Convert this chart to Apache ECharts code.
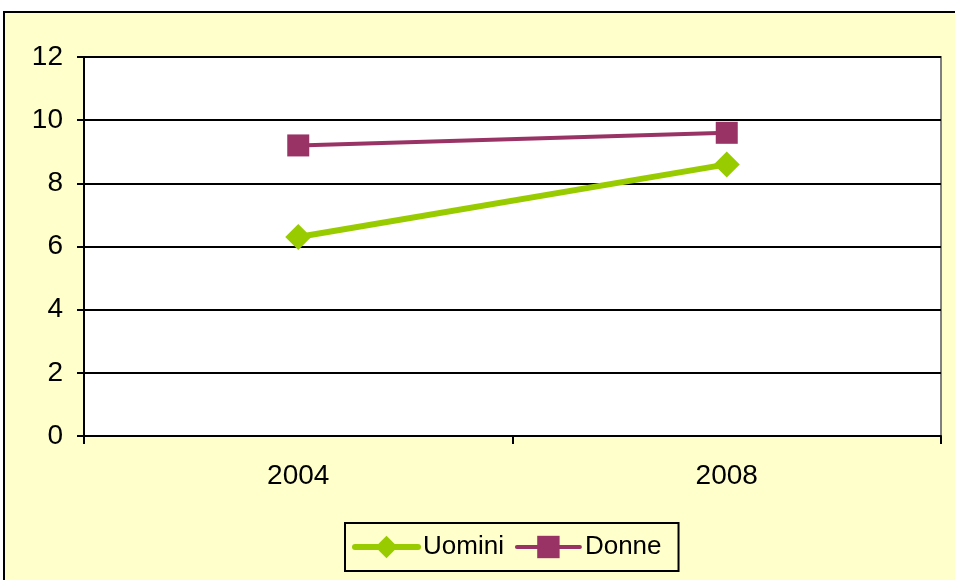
<!DOCTYPE html>
<html>
<head>
<meta charset="utf-8">
<script src="https://cdn.jsdelivr.net/npm/echarts@6/dist/echarts.min.js"></script>
<style>
  html, body { margin: 0; padding: 0; background: #fff; }
  #chart { width: 955px; height: 580px; }
</style>
</head>
<body>
<div id="chart"></div>
<script>
var years = ['2004', '2008'];
var uomini = [6.3, 8.6];
var donne = [9.2, 9.6];

var chart = echarts.init(document.getElementById('chart'));
var font = "'Liberation Sans', Arial, sans-serif";

option = {
    backgroundColor: '#ffffff',
    animation: false,
    graphic: [
        {
            type: 'rect',
            z: -10,
            shape: { x: 4, y: 12, width: 960, height: 580 },
            style: { fill: '#FFFFCC', stroke: '#000', lineWidth: 2 }
        }
    ],
    grid: {
        left: 84,
        top: 57,
        width: 857,
        height: 379,
        show: true,
        backgroundColor: '#ffffff',
        borderColor: '#808080',
        borderWidth: 2
    },
    legend: {
        left: 345,
        top: 523,
        padding: [11, 17, 11, 7],
        itemGap: 11,
        itemWidth: 63,
        itemHeight: 28,
        borderColor: '#000',
        borderWidth: 2,
        textStyle: { fontFamily: font, fontSize: 26, color: '#000' },
        data: [
            { name: 'Uomini', itemStyle: { color: '#99CC00' }, lineStyle: { color: '#99CC00', width: 6, cap: 'round' } },
            { name: 'Donne', itemStyle: { color: '#993366' }, lineStyle: { color: '#993366', width: 4, cap: 'round' } }
        ]
    },
    xAxis: {
        type: 'category',
        data: years,
        boundaryGap: true,
        axisLine: { lineStyle: { color: '#000', width: 2 } },
        axisTick: { show: true, length: 8, lineStyle: { color: '#000', width: 2 } },
        axisLabel: { margin: 26, fontFamily: font, fontSize: 28, color: '#000' },
        splitLine: { show: false }
    },
    yAxis: {
        type: 'value',
        min: 0,
        max: 12,
        interval: 2,
        axisLine: { show: true, lineStyle: { color: '#000', width: 2 } },
        axisTick: { show: true, length: 7, lineStyle: { color: '#000', width: 2 } },
        axisLabel: { margin: 21, fontFamily: font, fontSize: 28, color: '#000' },
        splitLine: { show: true, lineStyle: { color: '#000', width: 2 } }
    },
    series: [
        {
            name: 'Uomini',
            type: 'line',
            data: uomini,
            symbol: 'diamond',
            symbolSize: 26,
            itemStyle: { color: '#99CC00' },
            lineStyle: { color: '#99CC00', width: 6 }
        },
        {
            name: 'Donne',
            type: 'line',
            data: donne,
            symbol: 'rect',
            symbolSize: 22,
            itemStyle: { color: '#993366' },
            lineStyle: { color: '#993366', width: 4 }
        }
    ]
};
chart.setOption(option);
</script>
</body>
</html>
